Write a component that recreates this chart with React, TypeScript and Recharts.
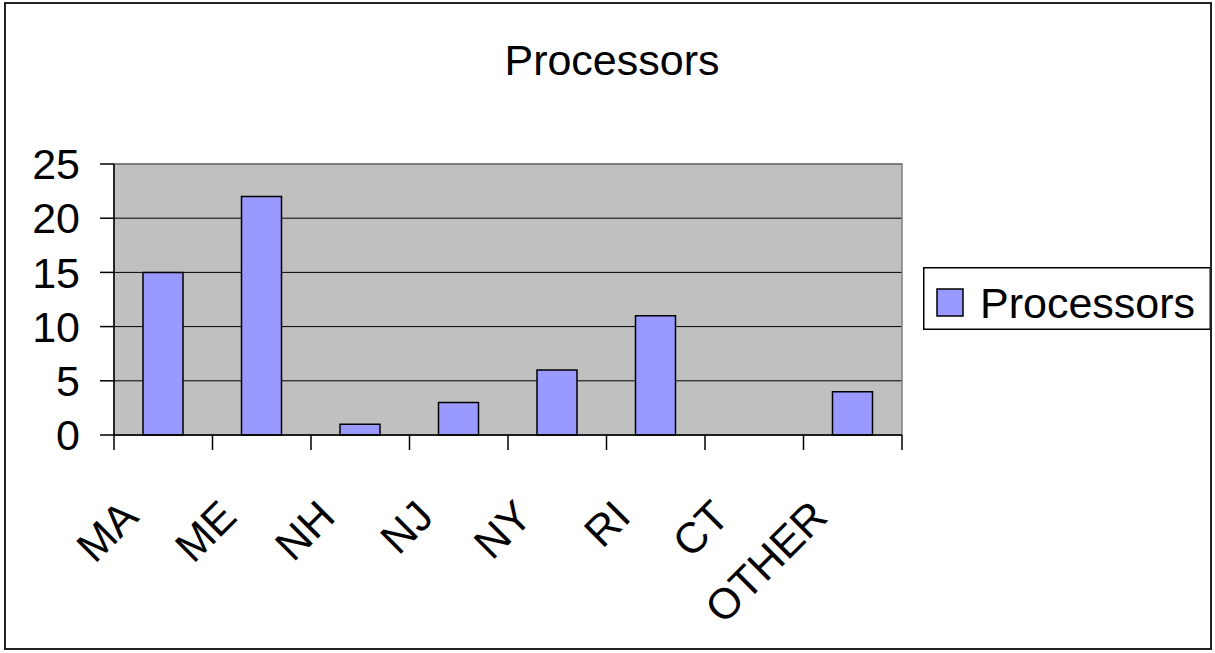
import React from 'react';
import { BarChart, Bar, XAxis, YAxis, CartesianGrid, Legend, ReferenceArea } from 'recharts';

const states = ['MA', 'ME', 'NH', 'NJ', 'NY', 'RI', 'CT', 'OTHER'];
const processors = [15, 22, 1, 3, 6, 11, 0, 4];
const yTicks = [0, 5, 10, 15, 20, 25];
const seriesName = 'Processors';
const chartTitle = 'Processors';

const chartData = states.map((state, i) => ({ state, processors: processors[i] }));

const FONT = '"Liberation Sans", Arial, sans-serif';
const W = 1215;
const H = 653;
const PLOT_LEFT = 114;
const PLOT_RIGHT = 902;
const PLOT_TOP = 164;
const PLOT_BOTTOM = 435;
const BAND = (PLOT_RIGHT - PLOT_LEFT) / states.length;
const BAR_FILL = '#9999FF';

function StateTick(props: any) {
  const { x, y, payload, index } = props;
  const half = BAND / 2;
  const tx = x - 23;
  const ty = y + 84;
  return (
    <g>
      <line x1={x - half} x2={x - half} y1={y} y2={y + 15} stroke="#000" strokeWidth={1.5} />
      {index === states.length - 1 && (
        <line x1={x + half} x2={x + half} y1={y} y2={y + 15} stroke="#000" strokeWidth={1.5} />
      )}
      <text
        x={tx}
        y={ty}
        transform={`rotate(-45, ${tx}, ${ty})`}
        textAnchor="end"
        fontSize={43}
        fontFamily={FONT}
        fill="#000"
      >
        {payload.value}
      </text>
    </g>
  );
}

function LegendBox() {
  return (
    <svg width={288} height={63} style={{ display: 'block' }}>
      <rect x={0.75} y={0.75} width={286.5} height={61.5} fill="#fff" stroke="#000" strokeWidth={1.5} />
      <rect x={14} y={22} width={26} height={27} fill={BAR_FILL} stroke="#000" strokeWidth={1.5} />
      <text x={57} y={51} fontSize={43} fontFamily={FONT} fill="#000">
        {seriesName}
      </text>
    </svg>
  );
}

export default function App() {
  return (
    <div style={{ position: 'absolute', left: 0, top: 0, width: W, height: H, background: '#fff' }}>
      <BarChart
        width={W}
        height={H}
        data={chartData}
        margin={{ top: PLOT_TOP, right: W - PLOT_RIGHT, bottom: H - PLOT_BOTTOM - 30, left: 0 }}
      >
        <CartesianGrid fill="#C0C0C0" stroke="#000" vertical={false} />
        <XAxis
          dataKey="state"
          height={30}
          interval={0}
          tickSize={0}
          tickMargin={0}
          tickLine={false}
          axisLine={{ stroke: '#000', strokeWidth: 1.5 }}
          tick={<StateTick />}
        />
        <YAxis
          width={PLOT_LEFT}
          domain={[0, 25]}
          ticks={yTicks}
          interval={0}
          tickSize={14}
          tickMargin={20}
          axisLine={{ stroke: '#000', strokeWidth: 1.5 }}
          tickLine={{ stroke: '#000', strokeWidth: 1.5 }}
          tick={{ fill: '#000', fontSize: 43, fontFamily: FONT }}
        />
        <ReferenceArea
          x1={states[0]}
          x2={states[states.length - 1]}
          y1={0}
          y2={25}
          fill="none"
          stroke="#808080"
          strokeWidth={1.5}
          ifOverflow="visible"
        />
        <Legend
          layout="horizontal"
          verticalAlign="middle"
          align="center"
          wrapperStyle={{ left: 923, top: 267, width: 288, height: 63 }}
          content={() => <LegendBox />}
        />
        <Bar
          dataKey="processors"
          name={seriesName}
          fill={BAR_FILL}
          stroke="#000"
          strokeWidth={1.5}
          barSize={40}
          isAnimationActive={false}
        />
      </BarChart>
      <svg
        width={W}
        height={H}
        style={{ position: 'absolute', left: 0, top: 0, pointerEvents: 'none' }}
      >
        <rect x={5} y={3} width={1206} height={646} fill="none" stroke="#222" strokeWidth={2} />
        <text x={612} y={75} textAnchor="middle" fontSize={43} fontFamily={FONT} fill="#000">
          {chartTitle}
        </text>
      </svg>
    </div>
  );
}
